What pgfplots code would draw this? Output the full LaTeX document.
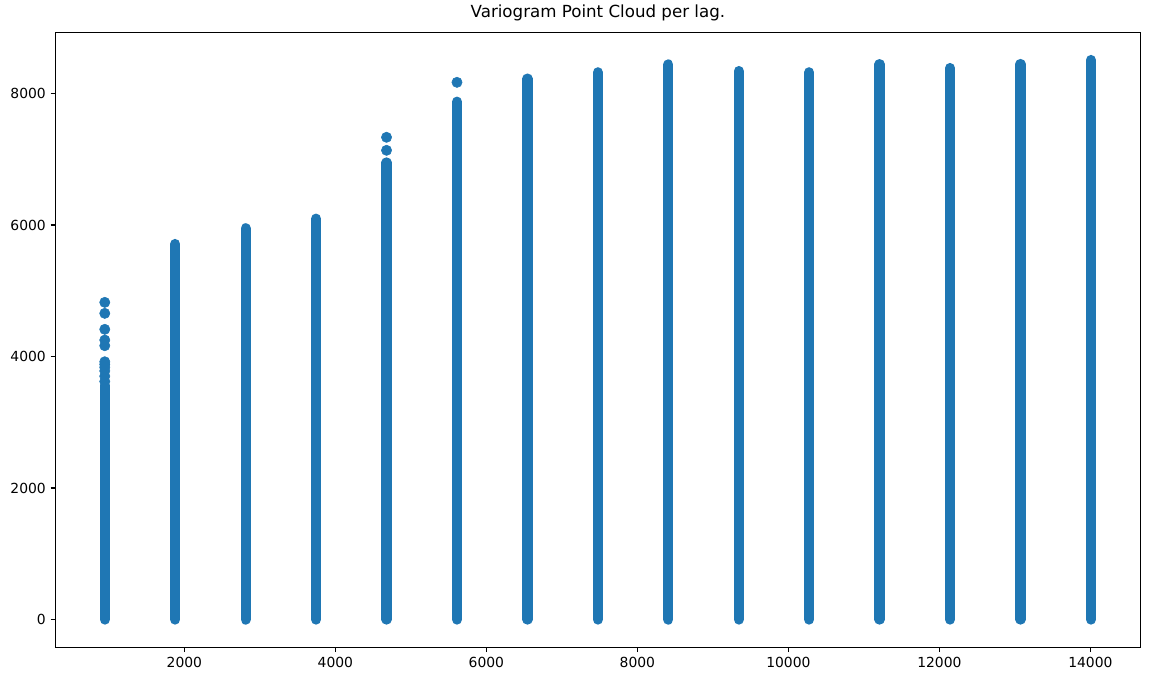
\documentclass[border=0pt]{standalone}
\usepackage{fontspec}
\setmainfont{DejaVu Sans}
\usepackage{pgfplots}
\pgfplotsset{compat=1.18}
\definecolor{c0}{HTML}{1F77B4}
\begin{document}
\begin{tikzpicture}
\begin{axis}[
  scale only axis, width=781pt, height=442.9pt,
  xmin=294, xmax=14661, ymin=-423, ymax=8931,
  xtick={2000,4000,...,14000}, ytick={0,2000,...,8000},
  scaled ticks=false,
  /pgf/number format/1000 sep={},
  /pgf/number format/assume math mode=true,
  tick align=outside, major tick length=3.5pt,
  tick style={black, line width=0.8pt},
  axis line style={line width=0.8pt},
  tick pos=left,
  ticklabel style={font=\fontsize{10}{12}\selectfont},
  title={Variogram Point Cloud per lag.},
  title style={font=\fontsize{12}{14}\selectfont, yshift=-1.5pt},
  unbounded coords=jump,
  clip=true,
]
% dense part of each lag's point cloud (min..max of the contiguous stack)
\addplot[c0, line width=7.4pt, line cap=round, mark=none] table {
x y
946 0
946 3560
nan nan
1879 0
1879 5710
nan nan
2812 0
2812 5949
nan nan
3745 0
3745 6095
nan nan
4678 0
4678 6950
nan nan
5611 0
5611 7874
nan nan
6544 0
6544 8225
nan nan
7477 0
7477 8321
nan nan
8410 0
8410 8440
nan nan
9343 0
9343 8340
nan nan
10276 0
10276 8321
nan nan
11209 0
11209 8445
nan nan
12142 0
12142 8386
nan nan
13075 0
13075 8447
nan nan
14008 0
14008 8508
};
% isolated points above the stacks
\addplot[only marks, mark=*, mark size=3.7pt, c0, mark options={draw=none, fill=c0}] table {
x y
946 3620
946 3700
946 3780
946 3835
946 3880
946 3920
946 4164
946 4250
946 4413
946 4656
946 4823
4678 7135
4678 7333
5611 8169
};
\end{axis}
\path ([xshift=-40pt, yshift=-25pt]current axis.south west) rectangle ([xshift=6.3pt, yshift=23.2pt]current axis.north east);
\end{tikzpicture}
\end{document}
